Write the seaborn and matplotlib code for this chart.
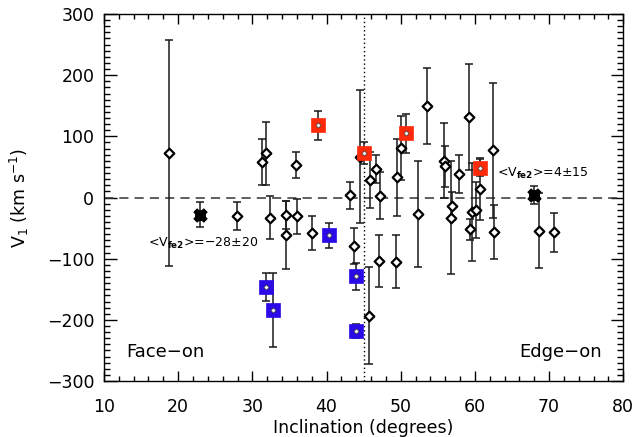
import numpy as np
import pandas as pd
import matplotlib
matplotlib.use("Agg")
import matplotlib.pyplot as plt
from matplotlib.ticker import MultipleLocator
import seaborn as sns

# Individual galaxies (open diamonds)
gal_incl = [18.7, 31.3, 31.9, 35.9, 44.5, 45.8, 46.6, 47.2, 43.2, 49.5,
            50.0, 52.3, 53.6, 55.9, 56.0, 57.9, 59.2, 62.4, 62.6, 60.7,
            59.3, 59.6, 60.2, 68.7, 70.7, 34.5, 34.5, 36.0, 38.0, 43.7,
            45.7, 47.1, 49.3, 56.9, 56.8, 27.9, 32.4]
gal_v1 = [73, 58, 72, 53, 67, 29, 47, 3, 4, 33,
          81, -27, 150, 60, 51, 39, 132, 77, -57, 14,
          -52, -23, -20, -54, -57, -28, -61, -31, -58, -79,
          -193, -104, -105, -14, -33, -30, -33]
gal_err = [185, 38, 52, 21, 108, 46, 23, 38, 22, 63,
           53, 86, 62, 61, 33, 31, 87, 110, 44, 50,
           17, 80, 46, 61, 32, 23, 56, 29, 27, 29,
           79, 42, 43, 23, 92, 23, 35]

# Redshifted subsample (red squares)
red_incl = [38.8, 45.0, 50.7, 60.7]
red_v1 = [118, 73, 105, 49]
red_err = [24, 18, 32, 14]

# Blueshifted subsample (blue squares)
blue_incl = [40.3, 44.0, 44.0, 31.8, 32.8]
blue_v1 = [-62, -129, -218, -146, -184]
blue_err = [20, 22, 12, 23, 60]

# Mean velocities of the face-on and edge-on groups
mean_incl = [22.9, 67.9]
mean_v1 = [-28, 4]
mean_err = [20, 15]

sns.set_theme(style="ticks")
plt.rcParams["font.family"] = ["DejaVu Sans"]
plt.rcParams["mathtext.fontset"] = "dejavusans"
plt.rcParams.update({"text.color": "black", "axes.labelcolor": "black",
                     "xtick.color": "black", "ytick.color": "black",
                     "axes.edgecolor": "black"})

fig = plt.figure(figsize=(6.36, 4.37), dpi=100)
ax = fig.add_axes([0.1635, 0.128, 0.8165, 0.84])

ebar_kw = dict(fmt="none", ecolor="#1a1a1a", elinewidth=1.1, capsize=2.9,
               capthick=1.1, zorder=2)
ax.errorbar(gal_incl, gal_v1, yerr=gal_err, **ebar_kw)
ax.errorbar(red_incl, red_v1, yerr=red_err, **ebar_kw)
ax.errorbar(blue_incl, blue_v1, yerr=blue_err, **ebar_kw)
ax.errorbar(mean_incl, mean_v1, yerr=mean_err, **ebar_kw)

gal = pd.DataFrame({"incl": gal_incl, "v1": gal_v1})
red = pd.DataFrame({"incl": red_incl, "v1": red_v1})
blue = pd.DataFrame({"incl": blue_incl, "v1": blue_v1})
mean = pd.DataFrame({"incl": mean_incl, "v1": mean_v1})

sns.scatterplot(data=gal, x="incl", y="v1", marker="D", s=24,
                facecolor="white", edgecolor="black", linewidth=1.6,
                zorder=4, ax=ax)
for df, col in ((red, "#ff2a0a"), (blue, "#2a0ae6")):
    sns.scatterplot(data=df, x="incl", y="v1", marker="s", s=115,
                    color=col, edgecolor=col, linewidth=0.5, zorder=4, ax=ax)
    sns.scatterplot(data=df, x="incl", y="v1", marker="D", s=7,
                    facecolor="white", edgecolor="#333333", linewidth=0.5,
                    zorder=5, ax=ax)
sns.scatterplot(data=mean, x="incl", y="v1", marker="s", s=55,
                color="black", edgecolor="black", zorder=4, ax=ax)
sns.scatterplot(data=mean, x="incl", y="v1", marker="X", s=90,
                color="black", edgecolor="black", zorder=4, ax=ax)

ax.axhline(0, color="#333333", lw=1.1, dashes=(6, 4), zorder=1)
ax.axvline(45, color="black", lw=1.0, dashes=(1, 2), zorder=1)

ax.set_xlim(10, 80)
ax.set_ylim(-300, 300)
ax.xaxis.set_major_locator(MultipleLocator(10))
ax.xaxis.set_minor_locator(MultipleLocator(2))
ax.yaxis.set_major_locator(MultipleLocator(100))
ax.yaxis.set_minor_locator(MultipleLocator(10))
ax.tick_params(which="both", direction="in", top=True, right=True,
               color="black", labelcolor="black", labelsize=12.5, width=1.0)
ax.tick_params(axis="x", which="major", length=7, pad=12)
ax.tick_params(axis="x", which="minor", length=3.5)
ax.tick_params(axis="y", which="major", length=9, pad=7)
ax.tick_params(axis="y", which="minor", length=4.5)
ax.set_yticklabels([f"{int(t)}".replace("-", "\u2212") for t in ax.get_yticks()])
for s in ax.spines.values():
    s.set_linewidth(1.0)
    s.set_color("black")

ax.set_xlabel("Inclination (degrees)", fontsize=12.5, labelpad=2)
ax.set_ylabel(r"V$_1$ (km s$^{-1}$)", fontsize=12.5, labelpad=11)

ax.text(15.9, -81, r"<V$_{\mathbf{fe2}}$>=$-$28±20", fontsize=9,
        va="baseline", ha="left")
ax.text(62.95, 34, r"<V$_{\mathbf{fe2}}$>=4±15", fontsize=9,
        va="baseline", ha="left")
ax.text(13.0, -260, "Face\u2212on", fontsize=13, va="baseline", ha="left")
ax.text(66.0, -260, "Edge\u2212on", fontsize=13, va="baseline", ha="left")

fig.savefig("out.png", dpi=100)
